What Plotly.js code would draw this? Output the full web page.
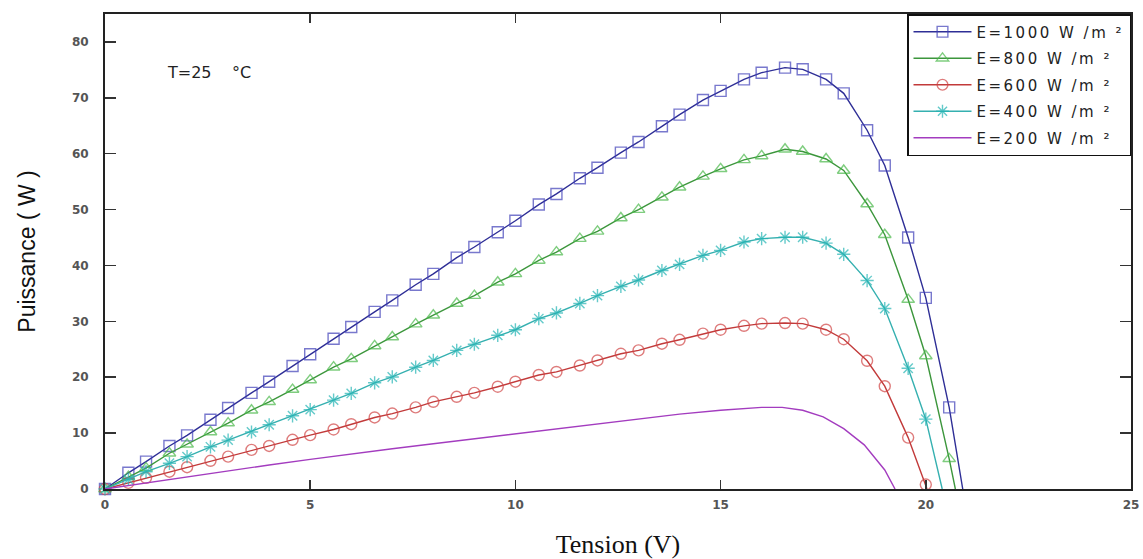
<!DOCTYPE html>
<html>
<head>
<meta charset="utf-8">
<script src="https://cdn.plot.ly/plotly-3.0.1.min.js"></script>
<style>
html,body{margin:0;padding:0;background:#fff;}
.legendtext{letter-spacing:2.5px;}
</style>
</head>
<body>
<div id="chart" style="width:1143px;height:559px;"></div>
<script>
// Voltage grid of the marked curves (V)
const V = [0,0.57,1,1.57,2,2.57,3,3.57,4,4.57,5,5.57,6,6.57,7,7.57,8,8.57,9,9.57,10,10.57,
           11,11.57,12,12.57,13,13.57,14,14.57,15,15.57,16,16.57,17,17.57,18,18.57,19,19.57,20,20.57];

// Power (W)
const P1000 = [0,2.9,4.9,7.7,9.6,12.4,14.5,17.2,19.2,22.0,24.1,26.9,29.0,31.7,33.75,36.55,38.5,41.4,43.3,45.95,48.0,50.9,
               52.8,55.6,57.5,60.2,62.1,64.9,67.0,69.6,71.25,73.3,74.5,75.4,75.1,73.3,70.8,64.2,57.9,45.0,34.2,14.6];
const P800  = [0,2.2,3.75,6.4,8.0,10.2,11.8,14.1,15.6,17.8,19.5,21.8,23.3,25.6,27.2,29.5,31.1,33.2,34.6,37.0,38.5,40.9,
               42.4,44.8,46.1,48.5,50.0,52.2,54.0,55.95,57.3,58.9,59.6,60.8,60.4,59.05,57.0,51.0,45.5,33.9,23.8,5.4];
const P600  = [0,1.1,2.0,3.1,3.9,5.05,5.8,7.0,7.7,8.8,9.64,10.65,11.6,12.8,13.5,14.6,15.6,16.5,17.2,18.3,19.2,20.4,
               20.95,22.1,23.0,24.2,24.8,26.0,26.7,27.8,28.5,29.2,29.6,29.7,29.6,28.5,26.8,22.95,18.4,9.2,0.8];
const P400  = [0,1.7,3.1,4.6,5.8,7.55,8.75,10.2,11.5,13.1,14.2,15.9,17.1,19.0,20.05,21.8,23.0,24.8,25.9,27.5,28.5,30.5,
               31.5,33.2,34.6,36.25,37.4,39.1,40.2,41.8,42.7,44.2,44.8,45.05,45.05,44.0,42.0,37.3,32.3,21.6,12.5];

// Open-circuit voltages where each curve reaches 0 W
const VOC = [20.9, 20.72, 20.03, 20.4];

// 200 W/m² curve (line only)
const V200 = [0,1,2,3,4,5,6,7,8,9,10,11,12,13,14,15,15.5,16,16.5,17,17.5,18,18.5,19,19.25];
const P200 = [0,1.1,2.2,3.2,4.3,5.3,6.3,7.2,8.1,9.0,9.9,10.8,11.7,12.6,13.4,14.1,14.4,14.6,14.6,14.1,12.9,10.8,7.9,3.4,0];

const NAMES = ['E=1000 W /m ²','E=800 W /m ²','E=600 W /m ²','E=400 W /m ²','E=200 W /m ²'];
const X_TICKS = [0,5,10,15,20,25];
const Y_TICKS = [0,10,20,30,40,50,60,70,80];

const series = [P1000, P800, P600, P400];
const lineColors = ['#2e2e96','#3c963c','#c23a3a','#35b0b0'];
const markColors = ['#3f3fb8','#48b848','#d04444','#22b4b4'];
const symbols = ['square-open','triangle-up-open','circle-open','asterisk-open'];

const traces = series.map((P, i) => {
  const xs = V.slice(0, P.length).concat([VOC[i]]);
  const ys = P.concat([0]);
  const sizes = P.map(() => 11).concat([0]);
  return {
    type: 'scatter', mode: 'lines+markers', name: NAMES[i], legendgroup: 'g' + i,
    x: xs, y: ys, cliponaxis: false,
    line: {color: lineColors[i], width: 1.4},
    marker: {symbol: symbols[i], size: sizes, color: markColors[i], line: {color: markColors[i], width: 1.4}}
  };
});
traces.push({
  type: 'scatter', mode: 'lines', name: NAMES[4], legendgroup: 'g4',
  x: V200, y: P200, cliponaxis: false,
  line: {color: '#a33cbf', width: 1.4}
});

const tickFont = {family: 'DejaVu Sans', size: 12, color: '#555', weight: 'bold'};
const layout = {
  width: 1143, height: 559,
  margin: {l: 105, r: 12, t: 14, b: 70},
  paper_bgcolor: '#fff', plot_bgcolor: '#fff',
  showlegend: true,
  legend: {
    x: 1, xanchor: 'right', y: 1, yanchor: 'top',
    bgcolor: '#fff', bordercolor: '#111', borderwidth: 1.5,
    font: {family: 'DejaVu Sans', size: 15, color: '#222'},
    itemwidth: 58, tracegroupgap: 4, traceorder: 'grouped'
  },
  xaxis: {
    range: [0, 25], tickvals: X_TICKS, ticktext: X_TICKS.map(String),
    ticks: 'inside', ticklen: 9, tickwidth: 1.5, tickcolor: '#333',
    showline: true, linecolor: '#222', linewidth: 2, mirror: 'ticks',
    showgrid: false, zeroline: false, tickfont: tickFont, ticklabelstandoff: 4,
    title: {text: 'Tension (V)', font: {family: 'Liberation Serif', size: 26, color: '#111'}, standoff: 23}
  },
  yaxis: {
    range: [0, 85], tickvals: Y_TICKS, ticktext: Y_TICKS.map(String),
    ticks: 'inside', ticklen: 11, tickwidth: 1.5, tickcolor: '#333',
    showline: true, linecolor: '#222', linewidth: 2, mirror: 'ticks',
    showgrid: false, zeroline: false, tickfont: tickFont, ticklabelstandoff: 12,
    title: {text: 'Puissance ( W )', font: {family: 'Liberation Sans', size: 23, color: '#111'}, standoff: 30}
  },
  annotations: [{
    x: 1.45, y: 74.5, xref: 'x', yref: 'y', xanchor: 'left', yanchor: 'middle',
    text: 'T=25\u00a0\u00a0\u00a0\u00a0°C', showarrow: false,
    font: {family: 'DejaVu Sans', size: 16, color: '#222'}
  }]
};

Plotly.newPlot('chart', traces, layout, {displayModeBar: false, staticPlot: true});
</script>
</body>
</html>
